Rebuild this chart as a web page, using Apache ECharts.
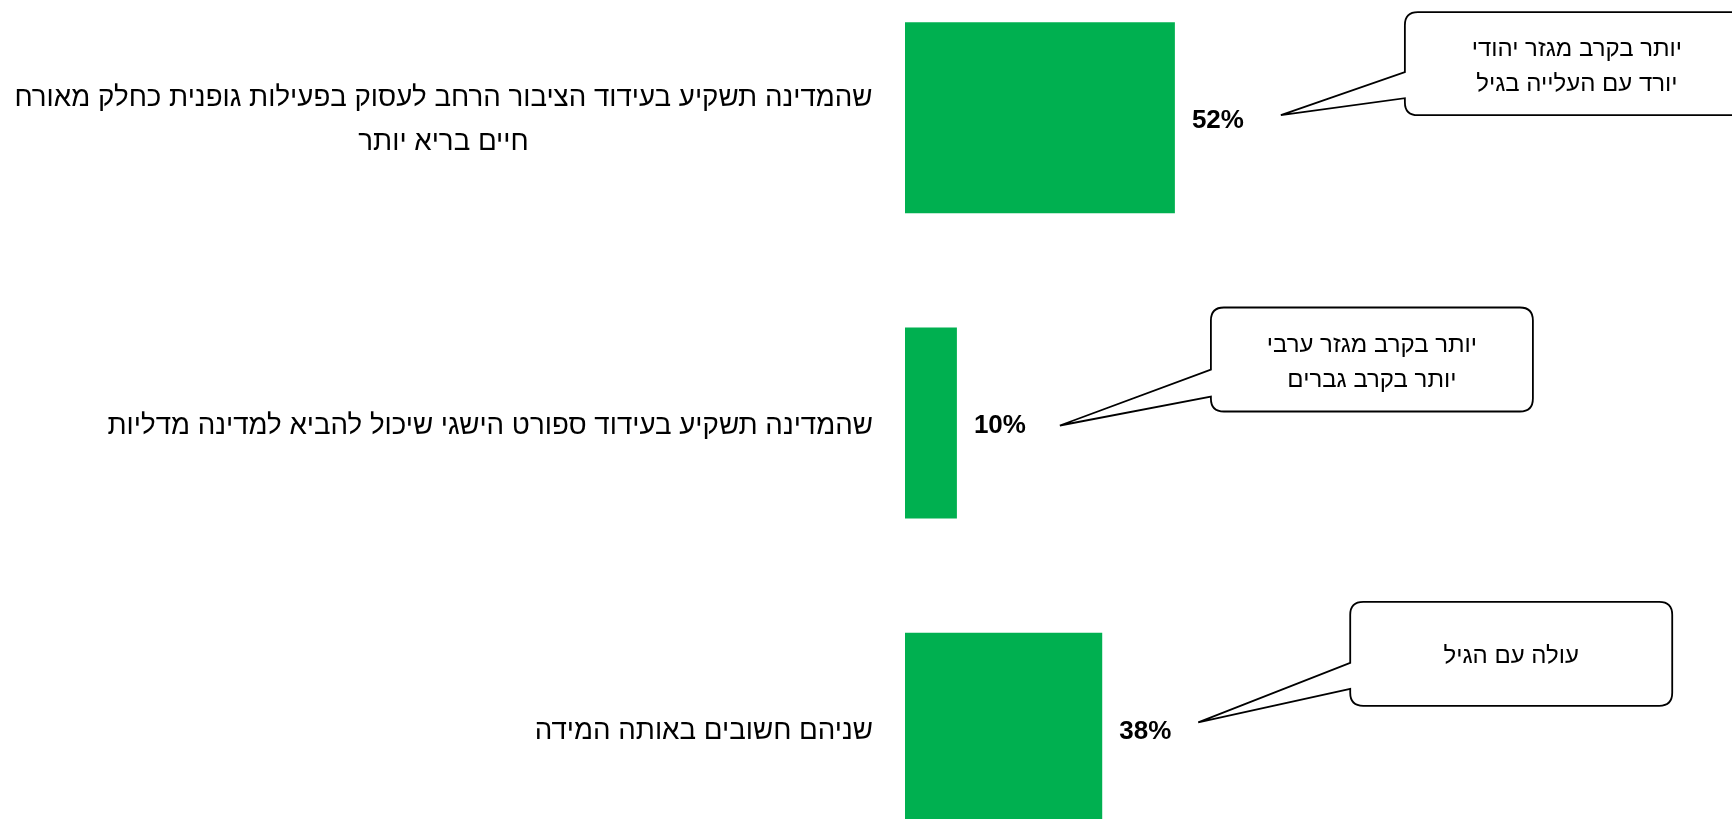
<!DOCTYPE html>
<html lang="he">
<head>
<meta charset="utf-8">
<script src="https://cdn.jsdelivr.net/npm/echarts@6/dist/echarts.min.js"></script>
<style>
  html, body { margin: 0; padding: 0; background: #ffffff; overflow: hidden; }
  body { position: relative; width: 1732px; height: 819px; }
  /* the plot runs a little past the top and bottom edges of the page */
  #chart { position: absolute; left: 0; top: -35px; width: 1732px; height: 916px; }
</style>
</head>
<body>
<div id="chart"></div>
<script>
// Survey answers (one bar per answer)
const categories = [
  'שהמדינה תשקיע בעידוד הציבור הרחב לעסוק בפעילות גופנית כחלק מאורח\nחיים בריא יותר',
  'שהמדינה תשקיע בעידוד ספורט הישגי שיכול להביא למדינה מדליות',
  'שניהם חשובים באותה המידה'
];
const shares = [52, 10, 38];
const notes = [
  ['יותר בקרב מגזר יהודי', 'יורד עם העלייה בגיל'],
  ['יותר בקרב מגזר ערבי', 'יותר בקרב גברים'],
  ['עולה עם הגיל']
];

// Speech-bubble geometry, in pixels relative to the end of its bar
const bubbleLayout = [
  { tipX: 106, tipY: -2.5, left: 230, top: -105.5, width: 345, height: 103, neck: [-45.5, -19.5], textX: 172 },
  { tipX: 103, tipY: 2.5,  left: 254, top: -115.5, width: 322, height: 104, neck: [-53.5, -26.5], textX: 161 },
  { tipX: 96,  tipY: -6,   left: 248, top: -126.5, width: 322, height: 104, neck: [-65.5, -39.5], textX: 161 }
];

const FONT = '"Liberation Sans", Arial, sans-serif';
const LABEL_SIZE = 27.7;

// Width of the longest line, so wrapped labels can be centred line by line
const measureCtx = document.createElement('canvas').getContext('2d');
measureCtx.font = LABEL_SIZE + 'px ' + FONT;
function lineWidth(s) { return Math.ceil(measureCtx.measureText(s).width); }

const chart = echarts.init(document.getElementById('chart'), null, { renderer: 'canvas' });

function bubblePath(L, T, R, B, r, n1, n2, tx, ty) {
  return 'M ' + (L + r) + ' ' + T +
    ' L ' + (R - r) + ' ' + T +
    ' Q ' + R + ' ' + T + ' ' + R + ' ' + (T + r) +
    ' L ' + R + ' ' + (B - r) +
    ' Q ' + R + ' ' + B + ' ' + (R - r) + ' ' + B +
    ' L ' + (L + r) + ' ' + B +
    ' Q ' + L + ' ' + B + ' ' + L + ' ' + (B - r) +
    ' L ' + L + ' ' + n2 +
    ' L ' + tx + ' ' + ty +
    ' L ' + L + ' ' + n1 +
    ' L ' + L + ' ' + (T + r) +
    ' Q ' + L + ' ' + T + ' ' + (L + r) + ' ' + T + ' Z';
}

const option = {
  backgroundColor: '#ffffff',
  animation: false,
  grid: { left: 905, top: 0, width: 519, height: 916 },
  xAxis: { type: 'value', min: 0, max: 100, show: false },
  yAxis: {
    type: 'category',
    data: categories,
    inverse: true,
    axisLine: { show: false },
    axisTick: { show: false },
    splitLine: { show: false },
    axisLabel: {
      margin: 32,
      color: '#000000',
      fontFamily: FONT,
      fontSize: LABEL_SIZE,
      lineHeight: 44,
      padding: [6, 0, 0, 0],
      formatter: function (value) {
        const lines = value.split('\n');
        if (lines.length === 1) return value;
        return lines.map(function (l) { return '{c|' + l + '}'; }).join('\n');
      },
      rich: {
        c: {
          width: lineWidth(categories[0].split('\n')[0]),
          align: 'center',
          color: '#000000',
          fontFamily: FONT,
          fontSize: LABEL_SIZE,
          lineHeight: 44
        }
      }
    }
  },
  series: [
    {
      type: 'bar',
      data: shares,
      barWidth: 191,
      itemStyle: { color: '#00B050' },
      label: {
        show: true,
        position: 'right',
        distance: 17,
        offset: [0, 3],
        formatter: function (p) { return p.value + '%'; },
        color: '#000000',
        fontFamily: FONT,
        fontWeight: 'bold',
        fontSize: 26
      }
    },
    {
      type: 'custom',
      clip: false,
      silent: true,
      encode: { x: 0, y: 1 },
      data: shares.map(function (v, i) { return [v, i]; }),
      renderItem: function (params, api) {
        const i = params.dataIndex;
        const g = bubbleLayout[i];
        const p = api.coord([api.value(0), api.value(1)]);
        const L = p[0] + g.left, T = p[1] + g.top;
        const R = L + g.width, B = T + g.height;
        return {
          type: 'group',
          children: [
            {
              type: 'path',
              shape: {
                pathData: bubblePath(L, T, R, B, 13,
                  p[1] + g.neck[0], p[1] + g.neck[1],
                  p[0] + g.tipX, p[1] + g.tipY)
              },
              style: { fill: '#ffffff', stroke: '#000000', lineWidth: 1.8 }
            },
            {
              type: 'text',
              style: {
                text: notes[i].join('\n'),
                x: L + g.textX,
                y: T + g.height / 2 + 3,
                align: 'center',
                verticalAlign: 'middle',
                fontFamily: FONT,
                fontSize: 24,
                lineHeight: 35,
                fill: '#000000'
              }
            }
          ]
        };
      }
    }
  ]
};

chart.setOption(option);
</script>
</body>
</html>
